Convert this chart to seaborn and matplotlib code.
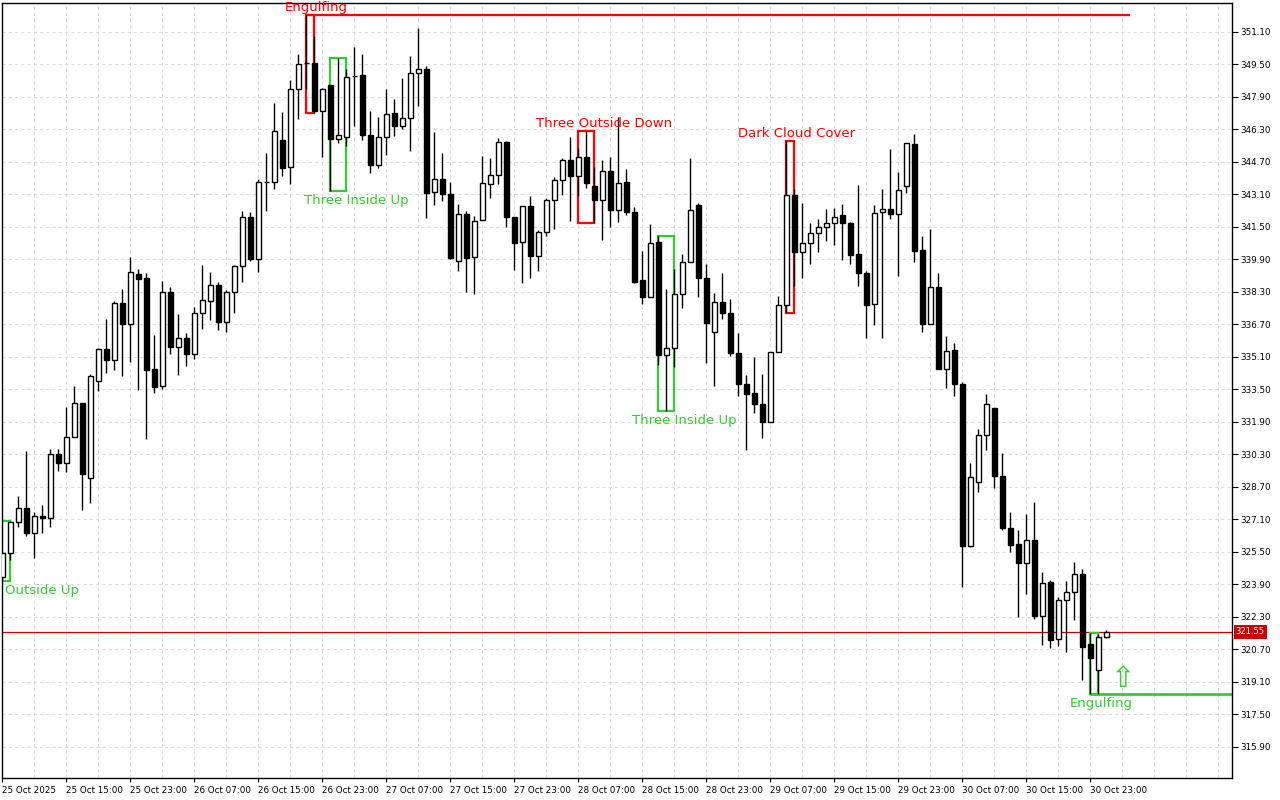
import numpy as np
import pandas as pd
import matplotlib
matplotlib.use("Agg")
import matplotlib.pyplot as plt
import matplotlib.transforms as mtransforms
from matplotlib.patches import Rectangle
import seaborn as sns

sns.set_theme(style="white")
plt.rcParams['font.family'] = ['DejaVu Sans']

# Hourly OHLC, 25 Oct 07:00 -> 31 Oct 01:00
opens = [324.26, 325.42, 326.98, 327.64, 326.44, 327.28, 327.18, 330.30, 329.86, 331.17,
         332.84, 329.15, 333.90, 335.48, 334.95, 337.77, 336.73, 339.16, 338.97, 334.52,
         333.68, 338.27, 335.58, 336.04, 335.22, 337.23, 337.83, 338.62, 336.80, 338.29,
         339.56, 341.99, 339.92, 343.71, 343.71, 345.78, 344.45, 348.26, 349.57, 349.57,
         347.19, 348.46, 345.83, 345.93, 348.92, 348.95, 346.04, 344.56, 345.93, 347.11,
         346.45, 346.86, 349.05, 349.28, 343.21, 343.87, 343.13, 339.80, 342.14, 339.99,
         341.81, 343.60, 344.04, 345.66, 341.98, 340.74, 342.52, 340.05, 341.23, 342.83,
         343.82, 344.81, 343.99, 344.95, 343.51, 342.80, 344.25, 342.31, 343.71, 342.24,
         338.87, 338.05, 340.76, 335.21, 335.54, 338.20, 339.77, 342.55, 338.99, 336.33,
         337.81, 337.27, 335.30, 333.74, 333.33, 332.79, 331.88, 335.35, 337.65, 343.07,
         340.26, 340.72, 341.21, 341.50, 341.70, 342.07, 341.70, 340.17, 339.24, 337.71,
         342.24, 342.36, 342.15, 343.51, 345.56, 340.34, 336.70, 338.51, 334.52, 335.42,
         333.77, 325.80, 328.94, 331.27, 332.59, 329.25, 326.69, 325.86, 324.96, 326.08,
         322.33, 324.02, 321.22, 323.12, 323.53, 324.39, 320.97, 319.67, 321.32]
highs = [325.45, 327.03, 328.22, 330.46, 327.48, 327.79, 330.55, 330.55, 332.62, 333.66,
         332.84, 334.23, 335.51, 336.98, 337.82, 338.44, 340.03, 339.42, 339.21, 336.15,
         338.82, 338.54, 337.19, 336.25, 337.57, 339.64, 339.28, 338.80, 338.40, 339.64,
         342.27, 342.22, 343.83, 345.11, 347.60, 347.16, 348.70, 349.98, 351.93, 350.90,
         348.34, 348.50, 349.79, 349.29, 350.36, 349.98, 347.22, 346.90, 348.29, 347.77,
         348.80, 349.90, 351.30, 349.40, 346.15, 345.11, 343.68, 342.64, 342.27, 342.03,
         344.99, 344.86, 345.89, 345.70, 341.98, 342.52, 343.02, 341.32, 342.93, 343.96,
         344.86, 345.94, 345.39, 346.22, 344.43, 344.78, 344.91, 346.90, 344.36, 342.48,
         340.30, 341.65, 341.04, 338.44, 339.40, 340.18, 344.90, 342.65, 339.68, 338.25,
         339.24, 337.93, 336.28, 334.18, 335.09, 334.23, 335.35, 338.09, 345.73, 343.34,
         342.69, 341.70, 341.90, 342.39, 342.44, 342.61, 341.75, 343.54, 339.32, 342.56,
         343.34, 345.35, 344.21, 345.64, 346.05, 341.05, 341.37, 339.24, 336.10, 335.80,
         333.87, 329.87, 331.52, 333.25, 332.60, 330.35, 327.47, 326.55, 327.34, 327.97,
         324.52, 324.09, 323.29, 324.06, 324.99, 324.63, 321.48, 321.43, 321.64]
lows = [324.06, 325.09, 326.74, 326.28, 325.17, 326.44, 326.74, 329.45, 329.42, 331.17,
        327.55, 327.91, 333.42, 334.29, 334.43, 334.13, 334.86, 333.47, 331.06, 333.30,
        333.52, 335.23, 334.18, 334.65, 334.98, 336.48, 336.93, 336.40, 336.30, 337.26,
        338.77, 339.80, 339.26, 342.27, 343.37, 343.99, 343.61, 346.78, 348.26, 347.11,
        344.94, 343.25, 345.60, 345.47, 346.45, 345.77, 344.15, 344.40, 345.01, 345.99,
        346.29, 345.22, 347.44, 341.93, 342.55, 342.75, 339.91, 339.34, 338.30, 338.18,
        341.81, 342.92, 343.58, 341.51, 339.39, 338.71, 338.96, 339.34, 341.02, 341.40,
        343.05, 341.80, 343.00, 343.41, 341.70, 340.87, 341.48, 341.73, 342.07, 338.71,
        337.70, 338.05, 334.67, 332.42, 334.60, 337.51, 339.77, 338.05, 334.80, 333.65,
        336.97, 335.13, 333.16, 330.50, 332.34, 331.11, 331.88, 335.35, 337.27, 338.58,
        338.99, 339.65, 340.26, 340.80, 340.60, 339.86, 339.65, 338.58, 336.00, 336.65,
        336.00, 341.87, 339.08, 343.15, 339.76, 336.32, 336.70, 334.52, 333.58, 333.16,
        323.75, 325.73, 328.43, 330.50, 328.64, 326.56, 325.50, 322.28, 323.40, 322.17,
        320.91, 320.77, 320.86, 320.56, 322.14, 319.17, 318.48, 318.48, 321.27]
closes = [325.42, 326.98, 327.64, 326.44, 327.28, 327.18, 330.30, 329.86, 331.17, 332.84,
          329.31, 334.16, 335.48, 334.95, 337.77, 336.70, 339.29, 338.95, 334.44, 333.63,
          338.27, 335.58, 336.04, 335.22, 337.23, 337.88, 338.62, 336.80, 338.29, 339.56,
          341.99, 339.92, 343.71, 343.71, 346.19, 344.40, 348.26, 349.52, 349.57, 347.19,
          348.26, 345.83, 346.04, 348.88, 348.92, 346.01, 344.56, 345.93, 347.06, 346.45,
          346.83, 349.05, 349.28, 343.16, 343.87, 343.10, 339.96, 342.11, 339.96, 341.78,
          343.63, 344.04, 345.66, 341.98, 340.71, 342.52, 340.05, 341.23, 342.83, 343.82,
          344.81, 343.99, 344.95, 343.66, 342.80, 344.25, 342.31, 343.67, 342.24, 338.77,
          338.05, 340.71, 335.18, 335.54, 338.20, 339.77, 342.30, 338.99, 336.77, 337.80,
          337.27, 335.30, 333.74, 333.28, 332.79, 331.88, 335.35, 337.65, 343.07, 340.26,
          340.72, 341.21, 341.50, 341.70, 342.00, 341.70, 340.11, 339.24, 337.65, 342.19,
          342.36, 342.15, 343.30, 345.64, 340.31, 336.70, 338.51, 334.52, 335.39, 333.74,
          325.77, 329.17, 331.27, 332.79, 329.22, 326.67, 325.83, 324.96, 326.08, 322.33,
          323.98, 321.15, 323.12, 323.53, 324.39, 320.81, 320.25, 321.32, 321.55]

time_labels = ["25 Oct 2025", "25 Oct 15:00", "25 Oct 23:00", "26 Oct 07:00", "26 Oct 15:00",
               "26 Oct 23:00", "27 Oct 07:00", "27 Oct 15:00", "27 Oct 23:00", "28 Oct 07:00",
               "28 Oct 15:00", "28 Oct 23:00", "29 Oct 07:00", "29 Oct 15:00", "29 Oct 23:00",
               "30 Oct 07:00", "30 Oct 15:00", "30 Oct 23:00"]
price_ticks = [315.90, 317.50, 319.10, 320.70, 322.30, 323.90, 325.50, 327.10, 328.70, 330.30,
               331.90, 333.50, 335.10, 336.70, 338.30, 339.90, 341.50, 343.10, 344.70, 346.30,
               347.90, 349.50, 351.10]

# candlestick patterns found by the indicator
pattern_names = ["Outside Up", "Engulfing", "Three Inside Up", "Three Outside Down",
                 "Three Inside Up", "Dark Cloud Cover", "Engulfing"]
pattern_first = [0, 38, 41, 72, 82, 98, 136]
pattern_last = [1, 39, 43, 74, 84, 99, 137]
pattern_bull = [True, False, True, False, True, False, True]

GREEN = '#32cd32'
RED = '#ff0000'

df = pd.DataFrame({'open': opens, 'high': highs, 'low': lows, 'close': closes})
df['idx'] = np.arange(len(df))
df['bull'] = df['close'] >= df['open']

fig = plt.figure(figsize=(12.8, 8), dpi=100)
ax = fig.add_axes([2 / 1280, 22 / 800, 1230 / 1280, 775.5 / 800])
ax.set_facecolor('white')

xmax = 153.7
ax.set_xlim(-0.04, xmax)
ax.set_ylim(314.36, 352.54)

# grid
grid_kw = dict(color='#dcdcdc', linestyle=(0, (3, 3)), linewidth=0.75, zorder=0)
ax.vlines(np.arange(4, 154, 4), 314.36, 352.54, **grid_kw)
ax.hlines(price_ticks, -0.04, xmax, **grid_kw)

# candles
ax.vlines(df['idx'], df['low'], df['high'], color='black', linewidth=1.0, zorder=3)
ax.bar(df['idx'], df['close'] - df['open'], bottom=df['open'], width=0.62,
       color=np.where(df['bull'], 'white', 'black'), edgecolor='black',
       linewidth=1.0, zorder=4)

# pattern boxes and labels
label_x = [0.3, 39.3, 44.2, 75.2, 85.2, 99.3, 137.3]
for k, name in enumerate(pattern_names):
    a, b = pattern_first[k], pattern_last[k]
    lo = df['low'][a:b + 1].min()
    hi = df['high'][a:b + 1].max()
    col = GREEN if pattern_bull[k] else RED
    ax.add_patch(Rectangle((a, lo), b - a, hi - lo, fill=False, edgecolor=col,
                           linewidth=1.6, zorder=2))
    if pattern_bull[k]:
        ax.annotate(name, (label_x[k], lo), xytext=(0, -2), textcoords='offset points',
                    ha='left' if k == 0 else 'center', va='top', color=col, fontsize=9.5)
    else:
        ax.annotate(name, (label_x[k], hi), xytext=(0, 3), textcoords='offset points',
                    ha='center', va='baseline', color=col, fontsize=9.5)

# level lines from the first and last engulfing
top_hi = df['high'][pattern_first[1]:pattern_last[1] + 1].max()
ax.hlines(top_hi, pattern_first[1], len(df) + 2, color=RED, linewidth=1.6, zorder=2)
bot_lo = df['low'][pattern_first[6]:pattern_last[6] + 1].min()
ax.hlines(bot_lo, pattern_first[6], xmax, color=GREEN, linewidth=2.0, zorder=2)
ax.annotate('\u21e7', (len(df) + 1, bot_lo), xytext=(0, 1), textcoords='offset points',
            ha='center', va='bottom', color=GREEN, fontsize=21)

# bid line
last = df['close'].iloc[-1]
ax.axhline(last, color='#cc0000', linewidth=0.9, zorder=1)
trans = mtransforms.blended_transform_factory(ax.transAxes, ax.transData)
ax.text(1.003, last, f"{last:.2f}", transform=trans, ha='left', va='center',
        fontsize=6, color='white', zorder=6,
        bbox=dict(boxstyle='square,pad=0.25', facecolor='#c80000', edgecolor='none'))

# axes
ax.yaxis.tick_right()
ax.set_yticks(price_ticks)
ax.set_yticklabels([f"{p:.2f}" for p in price_ticks])
ax.set_xticks(np.arange(0, 8 * len(time_labels), 8))
ax.set_xticklabels(time_labels, ha='left')
ax.tick_params(axis='y', right=True, left=False, length=4, width=0.8, pad=2,
               labelsize=6.3, colors='black')
ax.tick_params(axis='x', bottom=True, length=3, width=0.8, pad=3, labelsize=6.3,
               colors='black')
for s in ax.spines.values():
    s.set_color('black')
    s.set_linewidth(1.0)

fig.savefig('out.png', dpi=100)
